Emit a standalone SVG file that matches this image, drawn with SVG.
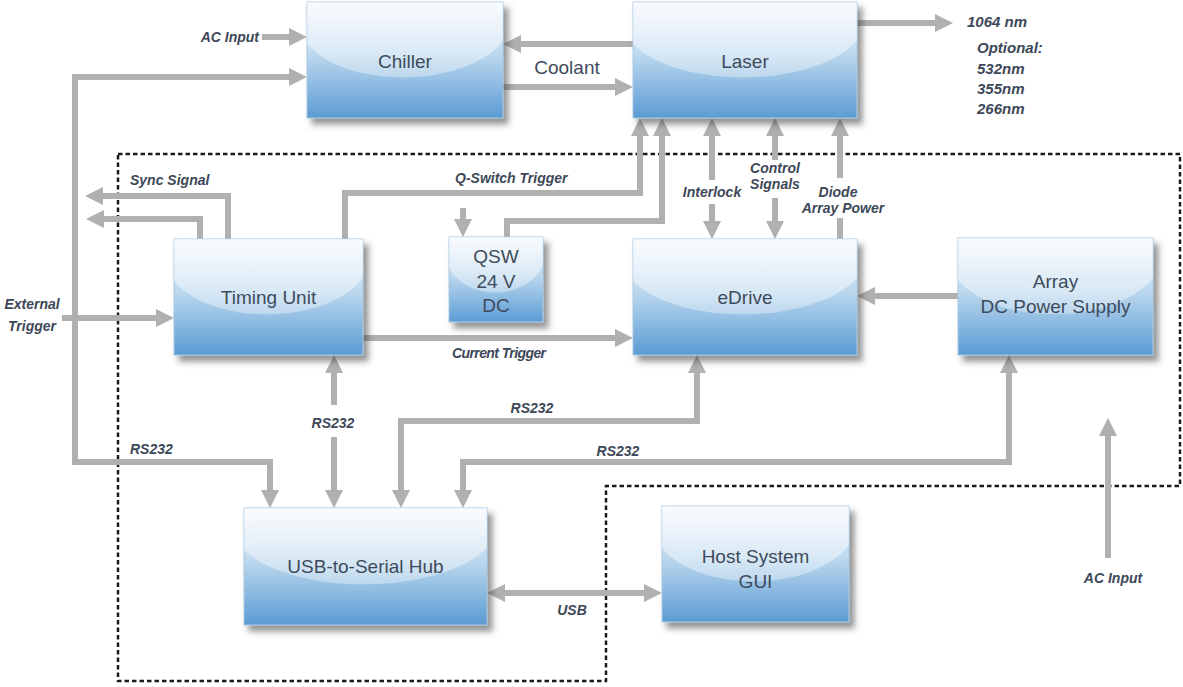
<svg xmlns="http://www.w3.org/2000/svg" width="1183" height="687" viewBox="0 0 1183 687">
  <defs>
    <linearGradient id="boxFill" x1="0" y1="0" x2="0" y2="1">
      <stop offset="0" stop-color="#f2f7fc"/>
      <stop offset="0.45" stop-color="#bcd8ee"/>
      <stop offset="1" stop-color="#5b9bd4"/>
    </linearGradient>
    <linearGradient id="glossFill" x1="0" y1="0" x2="0" y2="1">
      <stop offset="0" stop-color="#ffffff" stop-opacity="0.55"/>
      <stop offset="1" stop-color="#ffffff" stop-opacity="0.35"/>
    </linearGradient>
    <filter id="shadow" x="-10%" y="-10%" width="125%" height="135%">
      <feGaussianBlur in="SourceAlpha" stdDeviation="3"/>
      <feOffset dx="5" dy="6" result="b"/>
      <feFlood flood-color="#3a3a3a" flood-opacity="0.55"/>
      <feComposite in2="b" operator="in"/>
      <feMerge>
        <feMergeNode/>
        <feMergeNode in="SourceGraphic"/>
      </feMerge>
    </filter>
    <marker id="ah" viewBox="0 0 18 18" refX="0" refY="9" markerWidth="18" markerHeight="18" markerUnits="userSpaceOnUse" orient="auto-start-reverse">
      <path d="M0,0 L18,9 L0,18 Z" fill="#b0b0b0"/>
    </marker>
  </defs>
  <style>
    .box { fill: url(#boxFill); stroke: #a8c8e2; stroke-width: 1; filter: url(#shadow); }
    .gloss { fill: url(#glossFill); }
    .name { font-family: "Liberation Sans", Arial, sans-serif; font-size: 19px; fill: #3e4b5c; text-anchor: middle; }
    .lbl { font-family: "Liberation Sans", Arial, sans-serif; font-size: 14px; font-weight: bold; font-style: italic; fill: #3d4858; }
    .mid { text-anchor: middle; }
    .wl { font-size: 15px; }
    .conn path { fill: none; stroke: #b0b0b0; stroke-width: 6; stroke-linejoin: miter; }
    .arr { marker-end: url(#ah); }
    .both { marker-start: url(#ah); marker-end: url(#ah); }
    .border { fill: none; stroke: #1a1a1a; stroke-width: 2.5; stroke-dasharray: 4.5 3; }
  </style>

  <rect width="1183" height="687" fill="#ffffff"/>

  <!-- enclosure of the laser-head electronics -->
  <path class="border" d="M118 154 H1180 V486 H606 V681 H118 Z"/>

  <!-- connectors -->
  <g id="connectors" class="conn">
    <path class="arr" d="M262 37 H289"/>
    <path class="both" d="M270 490 V462 H75 V77 H289"/>
    <path class="arr" d="M633 44 H521"/>
    <path class="arr" d="M503 87 H615"/>
    <path class="arr" d="M857 23 H935"/>
    <path class="arr" d="M345 239 V193 H640 V136"/>
    <path class="arr" d="M507 237 V221 H662 V136"/>
    <path class="arr" d="M712 180 V136"/>
    <path class="arr" d="M712 204 V221"/>
    <path class="arr" d="M775 160 V136"/>
    <path class="arr" d="M775 198 V221"/>
    <path d="M840 239 V218"/>
    <path class="arr" d="M840 178 V136"/>
    <path class="arr" d="M228 239 V196 H103"/>
    <path class="arr" d="M200 239 V219 H104"/>
    <path class="arr" d="M62 318 H156"/>
    <path class="arr" d="M363 338 H615"/>
    <path class="arr" d="M958 296 H875"/>
    <path class="arr" d="M334 405 V373"/>
    <path class="arr" d="M334 437 V490"/>
    <path class="both" d="M697 373 V421 H401 V490"/>
    <path class="both" d="M1009 373 V462 H463 V490"/>
    <path class="both" d="M505 593 H644"/>
    <path class="arr" d="M463 208 V219"/>
    <path class="arr" d="M1108 558 V436"/>
  </g>

  <!-- connector labels -->
  <g id="labels">
    <text class="lbl" x="259" y="42" text-anchor="end">AC Input</text>
    <text x="567" y="74" font-family="Liberation Sans, Arial, sans-serif" font-size="19" fill="#3e4b5c" text-anchor="middle">Coolant</text>
    <text class="lbl wl" x="967" y="27">1064 nm</text>
    <text class="lbl wl" x="977" y="53">Optional:</text>
    <text class="lbl wl" x="977" y="74">532nm</text>
    <text class="lbl wl" x="977" y="94">355nm</text>
    <text class="lbl wl" x="977" y="114">266nm</text>
    <text class="lbl" x="130" y="185">Sync Signal</text>
    <text class="lbl" x="455" y="183">Q-Switch Trigger</text>
    <text class="lbl mid" x="712" y="197">Interlock</text>
    <text class="lbl mid" x="775" y="173">Control</text>
    <text class="lbl mid" x="775" y="189">Signals</text>
    <text class="lbl mid" x="838" y="197">Diode</text>
    <text class="lbl mid" x="843" y="213">Array Power</text>
    <text class="lbl mid" x="32" y="309">External</text>
    <text class="lbl mid" x="32" y="331">Trigger</text>
    <text class="lbl" x="452" y="358" letter-spacing="-0.6">Current Trigger</text>
    <text class="lbl mid" x="333" y="428">RS232</text>
    <text class="lbl mid" x="532" y="413">RS232</text>
    <text class="lbl mid" x="618" y="456">RS232</text>
    <text class="lbl" x="130" y="454">RS232</text>
    <text class="lbl mid" x="572" y="615">USB</text>
    <text class="lbl mid" x="1113" y="583">AC Input</text>
  </g>

  <!-- blocks -->
  <g id="chiller" transform="translate(307,2)">
    <rect class="box" width="196" height="116"/>
    <path class="gloss" d="M0 0 H196 V39 C157 87 39 87 0 42 Z"/>
    <text class="name" x="98" y="66">Chiller</text>
  </g>
  <g id="laser" transform="translate(633,2)">
    <rect class="box" width="224" height="116"/>
    <path class="gloss" d="M0 0 H224 V39 C179 87 45 87 0 42 Z"/>
    <text class="name" x="112" y="66">Laser</text>
  </g>
  <g id="timing-unit" transform="translate(174,239)">
    <rect class="box" width="189" height="116"/>
    <path class="gloss" d="M0 0 H189 V39 C151 87 38 87 0 42 Z"/>
    <text class="name" x="94.5" y="65">Timing Unit</text>
  </g>
  <g id="qsw" transform="translate(449,237)">
    <rect class="box" width="94" height="85"/>
    <path class="gloss" d="M0 0 H94 V29 C75 64 19 64 0 31 Z"/>
    <text class="name" x="47" y="26">QSW</text>
    <text class="name" x="47" y="51">24 V</text>
    <text class="name" x="47" y="75">DC</text>
  </g>
  <g id="edrive" transform="translate(633,239)">
    <rect class="box" width="224" height="116"/>
    <path class="gloss" d="M0 0 H224 V39 C179 87 45 87 0 42 Z"/>
    <text class="name" x="112" y="65">eDrive</text>
  </g>
  <g id="array-psu" transform="translate(958,238)">
    <rect class="box" width="195" height="117"/>
    <path class="gloss" d="M0 0 H195 V40 C156 88 39 88 0 42 Z"/>
    <text class="name" x="97.5" y="50">Array</text>
    <text class="name" x="97.5" y="75">DC Power Supply</text>
  </g>
  <g id="usb-hub" transform="translate(244,508)">
    <rect class="box" width="243" height="117"/>
    <path class="gloss" d="M0 0 H243 V40 C194 88 49 88 0 42 Z"/>
    <text class="name" x="121.5" y="65">USB-to-Serial Hub</text>
  </g>
  <g id="host-gui" transform="translate(662,506)">
    <rect class="box" width="187" height="116"/>
    <path class="gloss" d="M0 0 H187 V39 C150 87 37 87 0 42 Z"/>
    <text class="name" x="93.5" y="57">Host System</text>
    <text class="name" x="93.5" y="82">GUI</text>
  </g>
</svg>
